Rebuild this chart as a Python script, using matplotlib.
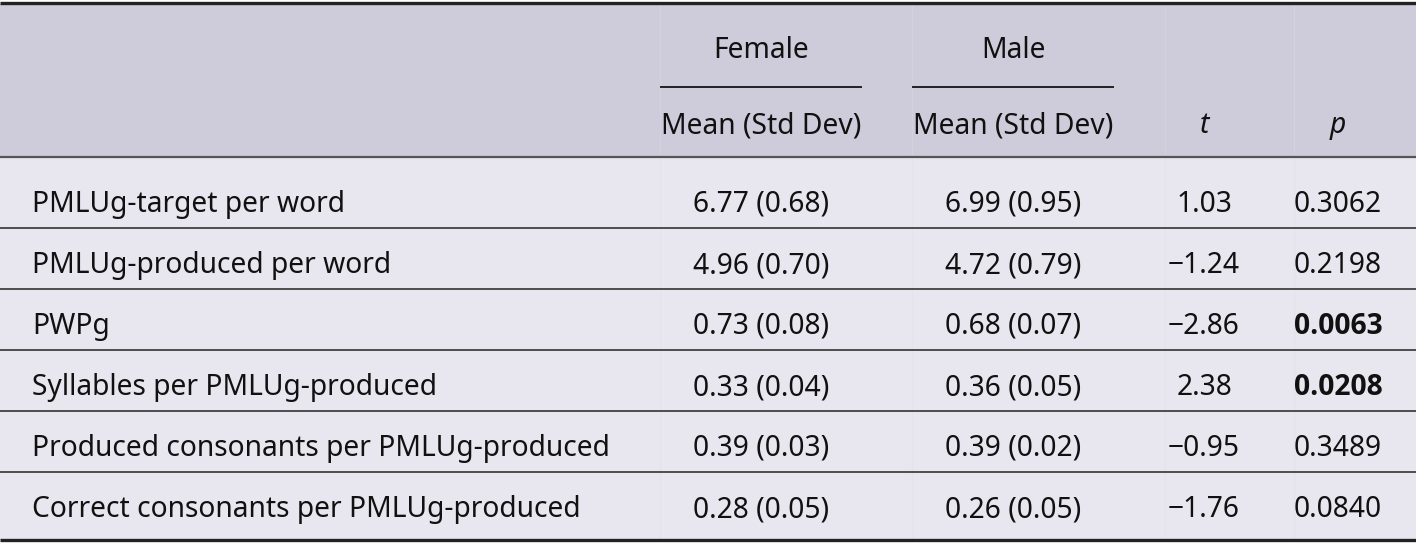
import matplotlib
matplotlib.use('Agg')
from matplotlib import pyplot as plt
from matplotlib.patches import Rectangle

# table content
labels = ['PMLUg-target per word', 'PMLUg-produced per word', 'PWPg',
          'Syllables per PMLUg-produced', 'Produced consonants per PMLUg-produced',
          'Correct consonants per PMLUg-produced']
female_mean = [6.77, 4.96, 0.73, 0.33, 0.39, 0.28]
female_sd = [0.68, 0.70, 0.08, 0.04, 0.03, 0.05]
male_mean = [6.99, 4.72, 0.68, 0.36, 0.39, 0.26]
male_sd = [0.95, 0.79, 0.07, 0.05, 0.02, 0.05]
t_vals = [1.03, -1.24, -2.86, 2.38, -0.95, -1.76]
p_vals = [0.3062, 0.2198, 0.0063, 0.0208, 0.3489, 0.0840]
groups = ['Female', 'Male']
sub_header = 'Mean (Std Dev)'

W, H = 1416, 546
FS = 20.3
plt.rcParams['font.family'] = ['Noto Sans', 'DejaVu Sans']

fig = plt.figure(figsize=(W / 100, H / 100), dpi=100)
ax = fig.add_axes([0, 0, 1, 1])
ax.set_xlim(0, W)
ax.set_ylim(H, 0)
ax.axis('off')

header_bg = '#cecbda'
body_bg = '#e8e7ef'
ax.add_patch(Rectangle((0, 4), W, 153, color=header_bg, lw=0))
ax.add_patch(Rectangle((0, 157), W, 383, color=body_bg, lw=0))

# very faint column separators
for x in [660, 912, 1165, 1294]:
    ax.vlines(x, 4, 157, color='#d3d1de', lw=1)
    ax.vlines(x, 157, 540, color='#e4e3ec', lw=1)

col_x = [761, 1013, 1204, 1338]
text_kw = dict(fontsize=FS, color='#111111')

# header
for i, g in enumerate(groups):
    ax.text(col_x[i], 58, g, ha='center', va='baseline', **text_kw)
    ax.hlines(87, col_x[i] - 101, col_x[i] + 101, color='#222222', lw=1.4)
    ax.text(col_x[i], 133, sub_header, ha='center', va='baseline', **text_kw)
ax.text(col_x[2], 133, 't', ha='center', va='baseline', style='italic', **text_kw)
ax.text(col_x[3], 133, 'p', ha='center', va='baseline', style='italic', **text_kw)

# rows
row_h = 61
for i, lab in enumerate(labels):
    yb = 212 + row_h * i
    ax.text(32, yb, lab, ha='left', va='baseline', **text_kw)
    ax.text(col_x[0], yb, '%.2f (%.2f)' % (female_mean[i], female_sd[i]),
            ha='center', va='baseline', **text_kw)
    ax.text(col_x[1], yb, '%.2f (%.2f)' % (male_mean[i], male_sd[i]),
            ha='center', va='baseline', **text_kw)
    ax.text(col_x[2], yb, ('%.2f' % t_vals[i]).replace('-', '\u2212'),
            ha='center', va='baseline', **text_kw)
    if p_vals[i] < 0.05:
        ax.text(col_x[3], yb, '%.4f' % p_vals[i], ha='center', va='baseline',
                fontweight='bold', family=['Open Sans', 'DejaVu Sans'], **text_kw)
    else:
        ax.text(col_x[3], yb, '%.4f' % p_vals[i], ha='center', va='baseline', **text_kw)
    if i > 0:
        ax.hlines(228 + row_h * (i - 1), 0, W, color='#333333', lw=1.2)

# rules
ax.hlines(3, 0, W, color='#222222', lw=2.4)
ax.hlines(157, 0, W, color='#555555', lw=1.6)
ax.hlines(540, 0, W, color='#222222', lw=2.4)

fig.savefig('out.png', dpi=100)
